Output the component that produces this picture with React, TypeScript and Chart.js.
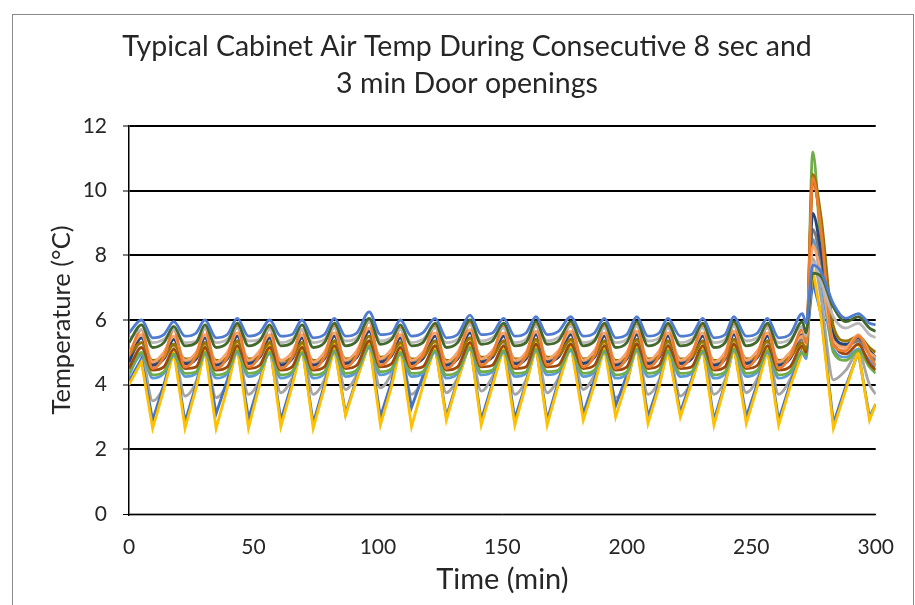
import React, { useEffect, useRef } from "react";
import { Chart, registerables } from "chart.js";
Chart.register(...registerables);

const TITLE_LINES = ["Typical Cabinet Air Temp During Consecutive 8 sec and", "3 min Door openings"];
const X_TITLE = "Time (min)";
const Y_TITLE = "Temperature (°C)";
const X_TICKS = [0, 50, 100, 150, 200, 250, 300];
const Y_TICKS = [0, 2, 4, 6, 8, 10, 12];

const TIMES = [0,
  5, 9.5, 14, 18, 22.5, 27, 30.5, 35, 39.5, 43.5, 48, 52.5, 56.5, 61, 65.5,
  69.5, 74, 78.5, 82.5, 87, 91.5, 96.5, 101, 105.5, 109, 113.5, 118, 123, 127.5, 132,
  137, 141.5, 146, 150.5, 155, 159.5, 163.5, 168, 172.5, 177.5, 182.5, 187, 191, 195.5, 200,
  204, 208.5, 213, 216.5, 221.5, 226, 230.5, 235, 239.5, 243, 248, 252.5, 256.5, 261, 265.5,
  270.5, 272, 274.7, 278, 283, 288, 293, 297.5, 300];

const TOP_BLUE = [5.6,
  6.0, 5.45, 5.55, 5.95, 5.5, 5.6, 6.0, 5.45, 5.55, 6.05, 5.5, 5.6, 6.0, 5.5, 5.55,
  6.0, 5.45, 5.55, 6.05, 5.5, 5.6, 6.25, 5.55, 5.6, 6.0, 5.5, 5.6, 6.05, 5.45, 5.55,
  6.15, 5.55, 5.6, 6.05, 5.5, 5.6, 6.1, 5.55, 5.65, 6.1, 5.5, 5.6, 6.05, 5.45, 5.55,
  6.1, 5.5, 5.6, 6.05, 5.5, 5.55, 6.05, 5.45, 5.55, 6.1, 5.5, 5.6, 6.05, 5.45, 5.55,
  6.2, 5.9, 7.7, 7.5, 6.5, 6.05, 6.2, 5.9, 5.85];

const DARK_GREEN = [5.3,
  5.85, 5.15, 5.3, 5.8, 5.2, 5.3, 5.85, 5.15, 5.3, 5.9, 5.2, 5.35, 5.85, 5.2, 5.3,
  5.85, 5.15, 5.3, 5.9, 5.2, 5.35, 6.05, 5.25, 5.4, 5.85, 5.2, 5.3, 5.9, 5.15, 5.3,
  6.0, 5.25, 5.35, 5.9, 5.2, 5.3, 5.95, 5.25, 5.35, 5.95, 5.2, 5.35, 5.9, 5.15, 5.3,
  5.95, 5.2, 5.35, 5.9, 5.2, 5.3, 5.9, 5.15, 5.3, 5.95, 5.2, 5.35, 5.9, 5.15, 5.3,
  5.95, 5.6, 7.45, 7.35, 6.4, 5.95, 6.1, 5.75, 5.65];

const LIGHT_GRAY = [5.4,
  5.7, 5.3, 5.4, 5.7, 5.3, 5.35, 5.75, 5.3, 5.4, 5.75, 5.35, 5.4, 5.7, 5.3, 5.4,
  5.7, 5.3, 5.4, 5.75, 5.35, 5.45, 5.95, 5.35, 5.45, 5.7, 5.3, 5.4, 5.75, 5.3, 5.4,
  5.85, 5.35, 5.45, 5.75, 5.3, 5.4, 5.8, 5.35, 5.45, 5.8, 5.3, 5.4, 5.75, 5.3, 5.4,
  5.8, 5.35, 5.45, 5.75, 5.3, 5.4, 5.75, 5.3, 5.4, 5.8, 5.35, 5.45, 5.75, 5.3, 5.4,
  5.8, 5.5, 7.8, 7.2, 6.1, 5.75, 5.9, 5.55, 5.45];

const ORANGE = [4.9,
  5.7, 4.5, 4.85, 5.7, 4.55, 4.9, 5.75, 4.5, 4.85, 5.8, 4.55, 4.9, 5.75, 4.5, 4.85,
  5.7, 4.5, 4.85, 5.8, 4.55, 4.9, 5.95, 4.6, 4.95, 5.75, 4.55, 4.9, 5.8, 4.5, 4.85,
  5.9, 4.6, 4.95, 5.8, 4.55, 4.9, 5.85, 4.6, 4.95, 5.85, 4.55, 4.9, 5.8, 4.5, 4.85,
  5.85, 4.55, 4.9, 5.8, 4.55, 4.9, 5.8, 4.5, 4.85, 5.85, 4.55, 4.9, 5.8, 4.5, 4.85,
  5.7, 5.3, 10.4, 8.8, 5.2, 5.05, 5.5, 4.9, 4.6];

const LIGHT_ORANGE = [5.0,
  5.55, 4.7, 5.0, 5.5, 4.75, 5.0, 5.55, 4.7, 5.0, 5.6, 4.75, 5.05, 5.55, 4.75, 5.0,
  5.55, 4.7, 5.0, 5.6, 4.75, 5.05, 5.75, 4.8, 5.1, 5.55, 4.75, 5.0, 5.6, 4.7, 5.0,
  5.7, 4.8, 5.05, 5.6, 4.75, 5.0, 5.65, 4.8, 5.05, 5.65, 4.75, 5.05, 5.6, 4.7, 5.0,
  5.65, 4.75, 5.05, 5.6, 4.75, 5.0, 5.6, 4.7, 5.0, 5.65, 4.75, 5.05, 5.6, 4.7, 5.0,
  5.5, 5.25, 8.3, 7.4, 5.35, 5.15, 5.55, 5.0, 4.85];

const DARK_GOLD = [4.9,
  5.3, 4.75, 4.85, 5.25, 4.8, 4.85, 5.3, 4.75, 4.85, 5.35, 4.8, 4.9, 5.3, 4.75, 4.85,
  5.3, 4.75, 4.85, 5.35, 4.8, 4.9, 5.5, 4.85, 4.95, 5.3, 4.8, 4.85, 5.35, 4.75, 4.85,
  5.45, 4.85, 4.9, 5.35, 4.8, 4.85, 5.4, 4.85, 4.9, 5.4, 4.8, 4.9, 5.35, 4.75, 4.85,
  5.4, 4.8, 4.9, 5.35, 4.8, 4.85, 5.35, 4.75, 4.85, 5.4, 4.8, 4.9, 5.35, 4.75, 4.85,
  5.3, 5.1, 10.5, 9.2, 5.8, 5.35, 5.5, 5.15, 5.0];

const DARK_BLUE = [4.7,
  5.45, 4.6, 4.8, 5.4, 4.65, 4.8, 5.45, 4.6, 4.8, 5.5, 4.65, 4.85, 5.45, 4.6, 4.8,
  5.45, 4.6, 4.8, 5.5, 4.65, 4.85, 5.65, 4.7, 4.9, 5.45, 4.65, 4.8, 5.5, 4.6, 4.8,
  5.6, 4.7, 4.85, 5.5, 4.65, 4.8, 5.55, 4.7, 4.85, 5.55, 4.65, 4.85, 5.5, 4.6, 4.8,
  5.55, 4.65, 4.85, 5.5, 4.65, 4.8, 5.5, 4.6, 4.8, 5.55, 4.65, 4.85, 5.5, 4.6, 4.8,
  5.55, 5.3, 9.3, 8.1, 5.55, 5.25, 5.45, 5.05, 4.85];

const DARK_GRAY = [4.8,
  5.3, 4.65, 4.8, 5.25, 4.7, 4.8, 5.3, 4.65, 4.8, 5.35, 4.7, 4.85, 5.3, 4.65, 4.8,
  5.3, 4.65, 4.8, 5.35, 4.7, 4.85, 5.5, 4.75, 4.9, 5.3, 4.7, 4.8, 5.35, 4.65, 4.8,
  5.45, 4.75, 4.85, 5.35, 4.7, 4.8, 5.4, 4.75, 4.85, 5.4, 4.7, 4.85, 5.35, 4.65, 4.8,
  5.4, 4.7, 4.85, 5.35, 4.7, 4.8, 5.35, 4.65, 4.8, 5.4, 4.7, 4.85, 5.35, 4.65, 4.8,
  5.4, 5.2, 8.8, 7.8, 5.6, 5.2, 5.35, 4.95, 4.75];

const BROWN = [4.5,
  5.15, 4.45, 4.55, 5.1, 4.5, 4.55, 5.15, 4.45, 4.55, 5.2, 4.5, 4.6, 5.15, 4.45, 4.55,
  5.15, 4.45, 4.55, 5.2, 4.5, 4.6, 5.35, 4.55, 4.65, 5.15, 4.5, 4.55, 5.2, 4.45, 4.55,
  5.3, 4.55, 4.6, 5.2, 4.5, 4.55, 5.25, 4.55, 4.6, 5.25, 4.5, 4.6, 5.2, 4.45, 4.55,
  5.25, 4.5, 4.6, 5.2, 4.5, 4.55, 5.2, 4.45, 4.55, 5.25, 4.5, 4.6, 5.2, 4.45, 4.55,
  5.2, 5.0, 10.3, 8.9, 5.4, 4.95, 5.25, 4.65, 4.45];

const GREEN = [4.35,
  5.0, 4.3, 4.4, 4.95, 4.35, 4.4, 5.0, 4.3, 4.4, 5.05, 4.35, 4.45, 5.0, 4.3, 4.4,
  5.0, 4.3, 4.4, 5.05, 4.35, 4.45, 5.2, 4.4, 4.5, 5.0, 4.35, 4.4, 5.05, 4.3, 4.4,
  5.15, 4.4, 4.45, 5.05, 4.35, 4.4, 5.1, 4.4, 4.45, 5.1, 4.35, 4.45, 5.05, 4.3, 4.4,
  5.1, 4.35, 4.45, 5.05, 4.35, 4.4, 5.05, 4.3, 4.4, 5.1, 4.35, 4.45, 5.05, 4.3, 4.4,
  5.0, 4.9, 11.2, 8.2, 5.0, 4.75, 5.05, 4.55, 4.35];

const LIGHT_BLUE = [4.3,
  4.95, 4.2, 4.35, 4.9, 4.25, 4.35, 4.95, 4.2, 4.35, 5.0, 4.25, 4.4, 4.95, 4.2, 4.35,
  4.95, 4.2, 4.35, 5.0, 4.25, 4.4, 5.15, 4.3, 4.45, 4.95, 4.25, 4.35, 5.0, 4.2, 4.35,
  5.1, 4.3, 4.4, 5.0, 4.25, 4.35, 5.05, 4.3, 4.4, 5.05, 4.25, 4.4, 5.0, 4.2, 4.35,
  5.05, 4.25, 4.4, 5.0, 4.25, 4.35, 5.0, 4.2, 4.35, 5.05, 4.25, 4.4, 5.0, 4.2, 4.35,
  5.0, 4.8, 8.5, 7.2, 5.1, 4.85, 5.1, 4.75, 4.55];

const GRAY_LOW = [4.4,
  4.9, 3.5, 3.95, 4.95, 3.65, 4.1, 5.0, 3.6, 4.05, 5.0, 3.7, 4.15, 5.05, 3.75, 4.2,
  5.0, 3.7, 4.15, 5.05, 3.85, 4.3, 5.15, 3.9, 4.35, 5.0, 3.7, 4.15, 5.05, 3.75, 4.2,
  5.15, 3.8, 4.25, 5.05, 3.7, 4.15, 5.1, 3.75, 4.2, 5.1, 3.85, 4.3, 5.05, 3.6, 4.05,
  5.1, 3.7, 4.15, 5.05, 3.65, 4.1, 5.05, 3.7, 4.15, 5.1, 3.75, 4.2, 5.05, 3.7, 4.15,
  5.0, 4.9, 7.9, 6.7, 4.15, 4.45, 5.0, 4.0, 3.7];

const BLUE_LOW = [4.1,
  4.8, 2.9, 4.0, 5.1, 2.85, 4.0, 5.15, 3.1, 4.15, 5.2, 2.95, 4.1, 5.25, 2.9, 4.05,
  5.2, 2.8, 4.0, 5.2, 3.1, 4.2, 5.3, 3.0, 4.1, 5.2, 3.3, 4.25, 5.2, 3.0, 4.15,
  5.3, 2.9, 4.05, 5.2, 2.95, 4.05, 5.2, 2.9, 4.1, 5.3, 3.1, 4.15, 5.2, 3.35, 4.3,
  5.25, 3.0, 4.05, 5.15, 3.15, 4.15, 5.2, 2.9, 4.05, 5.2, 3.0, 4.05, 5.15, 2.9, 4.0,
  5.1, 5.2, 7.2, 6.2, 2.8, 3.95, 5.0, 3.0, 3.4];

const YELLOW = [4.0,
  4.7, 2.65, 3.85, 5.05, 2.65, 3.9, 5.1, 2.65, 3.9, 5.2, 2.65, 4.0, 5.3, 2.7, 3.95,
  5.2, 2.65, 3.9, 5.15, 3.05, 4.15, 5.3, 2.75, 3.95, 5.15, 2.7, 3.95, 5.2, 2.9, 4.1,
  5.3, 2.75, 3.95, 5.15, 2.75, 4.0, 5.2, 2.75, 4.0, 5.25, 2.9, 4.0, 5.15, 3.0, 4.1,
  5.2, 2.8, 3.95, 5.1, 3.0, 4.05, 5.15, 2.75, 4.0, 5.2, 2.8, 3.95, 5.1, 2.75, 3.9,
  5.0, 5.3, 7.6, 6.1, 2.65, 3.85, 5.05, 2.9, 3.4];

// first listed is drawn on top
const SERIES = [
  { label: "Probe 1", color: "#4f7bd0", values: TOP_BLUE, straight: false },
  { label: "Probe 2", color: "#43682B", values: DARK_GREEN, straight: false },
  { label: "Probe 3", color: "#b8b8b8", values: LIGHT_GRAY, straight: false },
  { label: "Probe 4", color: "#ED7D31", values: ORANGE, straight: false },
  { label: "Probe 5", color: "#F4A46C", values: LIGHT_ORANGE, straight: false },
  { label: "Probe 6", color: "#997300", values: DARK_GOLD, straight: false },
  { label: "Probe 7", color: "#264478", values: DARK_BLUE, straight: false },
  { label: "Probe 8", color: "#7a7a7a", values: DARK_GRAY, straight: false },
  { label: "Probe 9", color: "#9E480E", values: BROWN, straight: false },
  { label: "Probe 10", color: "#70AD47", values: GREEN, straight: false },
  { label: "Probe 11", color: "#5B9BD5", values: LIGHT_BLUE, straight: false },
  { label: "Probe 12", color: "#FFC000", values: YELLOW, straight: true },
  { label: "Probe 13", color: "#4472C4", values: BLUE_LOW, straight: true },
  { label: "Probe 14", color: "#A5A5A5", values: GRAY_LOW, straight: false },
];

const FONT = "Lato, 'Open Sans', sans-serif";
const TEXT = "#262626";

// Title drawn as real canvas text, centred on the outer frame
const titlePlugin = {
  id: "frameTitle",
  afterDraw(chart: any) {
    const ctx = chart.ctx;
    ctx.save();
    ctx.fillStyle = TEXT;
    ctx.font = `normal 28.5px ${FONT}`;
    ctx.textAlign = "center";
    ctx.textBaseline = "middle";
    TITLE_LINES.forEach((line, i) => ctx.fillText(line, 467, 47 + i * 37));
    ctx.restore();
  },
};

export default function App() {
  const ref = useRef<HTMLCanvasElement>(null);
  useEffect(() => {
    const chart = new Chart(ref.current as HTMLCanvasElement, {
      type: "line",
      data: {
        datasets: SERIES.map((s) => ({
          label: s.label,
          data: s.values.map((v, i) => ({ x: TIMES[i], y: v })),
          borderColor: s.color,
          backgroundColor: s.color,
          borderWidth: 2.8,
          pointRadius: 0,
          fill: false,
          tension: 0,
          cubicInterpolationMode: s.straight ? "default" : "monotone",
        })),
      },
      options: {
        responsive: false,
        animation: false,
        events: [],
        layout: { padding: { left: 19, right: 36, top: 126, bottom: 0 } },
        plugins: {
          legend: { display: false },
          tooltip: { enabled: false },
          title: { display: false },
        },
        scales: {
          x: {
            type: "linear",
            min: 0,
            max: 300,
            afterBuildTicks: (s: any) => { s.ticks = X_TICKS.map((v) => ({ value: v })); },
            afterFit: (s: any) => { s.height = 91; },
            grid: { display: false, drawTicks: false },
            border: { display: true, color: "#000", width: 1 },
            ticks: { color: TEXT, font: { family: FONT, size: 21 }, padding: 21, maxRotation: 0, autoSkip: false },
            title: { display: true, text: X_TITLE, color: TEXT, font: { family: FONT, size: 29, lineHeight: 1.2 }, padding: { top: 0, bottom: 8 } },
          },
          y: {
            type: "linear",
            min: 0,
            max: 12,
            afterBuildTicks: (s: any) => { s.ticks = Y_TICKS.map((v) => ({ value: v })); },
            afterFit: (s: any) => { s.width = 110; },
            grid: {
              color: (ctx: any) => (ctx.tick && ctx.tick.value === 0 ? "#a6a6a6" : "#000"),
              lineWidth: (ctx: any) => (ctx.tick && ctx.tick.value === 0 ? 3 : 2),
              drawTicks: true,
              tickLength: 6,
              tickColor: "#000",
              tickWidth: 1,
            },
            border: { display: true, color: "#000", width: 1.5 },
            ticks: { color: TEXT, font: { family: FONT, size: 21 }, padding: 16 },
            title: { display: true, text: Y_TITLE, color: TEXT, font: { family: FONT, size: 25.5, lineHeight: 1.2 }, padding: { top: 27, bottom: 0 } },
          },
        },
      },
      plugins: [titlePlugin],
    } as any);
    return () => chart.destroy();
  }, []);
  return (
    <div style={{ position: "absolute", left: 0, top: 0, width: 915, height: 605, background: "#fff", overflow: "hidden" }}>
      <canvas ref={ref} width={915} height={605} style={{ display: "block" }} />
      <div style={{ position: "absolute", left: 12, top: 14, width: 900, height: 620, border: "1px solid #8a8a8a", pointerEvents: "none" }} />
    </div>
  );
}
